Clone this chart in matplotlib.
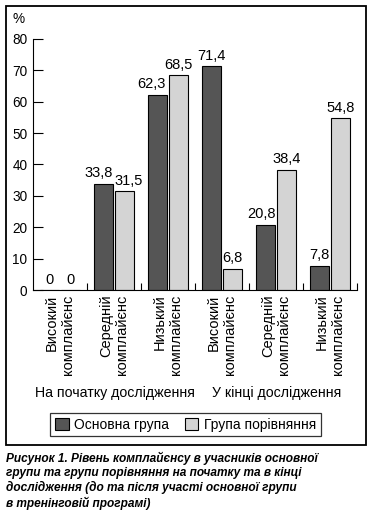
import numpy as np
import matplotlib
matplotlib.use("Agg")
import matplotlib.pyplot as plt
from matplotlib.patches import Rectangle, Patch

plt.rcParams['font.family'] = ['Liberation Sans', 'DejaVu Sans']

categories = ['Високий\nкомплайєнс', 'Середній\nкомплайєнс', 'Низький\nкомплайєнс',
              'Високий\nкомплайєнс', 'Середній\nкомплайєнс', 'Низький\nкомплайєнс']
main_group = [0, 33.8, 62.3, 71.4, 20.8, 7.8]
compare_group = [0, 31.5, 68.5, 6.8, 38.4, 54.8]
stage_labels = ['На початку дослідження', 'У кінці дослідження']
legend_labels = ['Основна група', 'Група порівняння']
caption = ('Рисунок 1. Рівень комплайєнсу в учасників основної\n'
           'групи та групи порівняння на початку та в кінці\n'
           'дослідження (до та після участі основної групи\n'
           'в тренінговій програмі)')

W, H = 372, 513
fig = plt.figure(figsize=(W / 100, H / 100), dpi=100)
ax = fig.add_axes([33 / W, 1 - 290 / H, (357 - 33) / W, (290 - 39) / H])

x = np.arange(len(categories)) + 0.5
w = 0.36
dark, light = '#555555', '#d4d4d4'
b1 = ax.bar(x - 0.19, main_group, w, color=dark, edgecolor='black', linewidth=0.8)
b2 = ax.bar(x + 0.19, compare_group, w, color=light, edgecolor='black', linewidth=0.8)

def fmt(v):
    return str(int(v)) if v == int(v) else str(v).replace('.', ',')

# sideways nudges (points) so neighbouring value labels don't collide
nudge_main = [0, -3.6, -4.7, 0, -3.2, 0]
nudge_comp = [0, 2.9, 0, 0, 0, 0]

for bars, vals, nud in ((b1, main_group, nudge_main), (b2, compare_group, nudge_comp)):
    for r, v, dx in zip(bars, vals, nud):
        ax.annotate(fmt(v), (r.get_x() + r.get_width() / 2, v), xytext=(dx, 2.5),
                    textcoords='offset points', ha='center', va='bottom', fontsize=10.5)

ax.set_xlim(0, 6)
ax.set_ylim(0, 80)
ax.set_yticks(range(0, 81, 10))
ax.set_xticks(range(1, 7))
ax.set_xticklabels([])
ax.tick_params(axis='y', direction='in', length=7, labelsize=9.8, pad=4)
ax.tick_params(axis='x', direction='in', length=5)
for s in ('top', 'right'):
    ax.spines[s].set_visible(False)
ax.patch.set_alpha(0)

for xi, lab in zip(x, categories):
    ax.text(xi, -1.5, lab, rotation=90, ha='center', va='top', multialignment='right',
            fontsize=10.5, linespacing=1.2)

fig.text(19 / W, 1 - 19 / H, '%', ha='center', va='center', fontsize=9.8)
fig.text(115 / W, 1 - 393 / H, stage_labels[0], ha='center', va='center', fontsize=10.2)
fig.text(277 / W, 1 - 393 / H, stage_labels[1], ha='center', va='center', fontsize=10.2)

handles = [Patch(facecolor=dark, edgecolor='black', linewidth=0.8),
           Patch(facecolor=light, edgecolor='black', linewidth=0.8)]
leg = fig.legend(handles, legend_labels, loc='center', bbox_to_anchor=(185.5 / W, 1 - 424.5 / H),
                 ncol=2, fontsize=10, frameon=True, fancybox=False, edgecolor='black',
                 handlelength=1.0, handleheight=1.0, handletextpad=0.4, columnspacing=1.1,
                 borderpad=0.35)
leg.get_frame().set_linewidth(0.9)

fig.patches.append(Rectangle((6 / W, 1 - 445 / H), 360 / W, 439 / H, transform=fig.transFigure,
                             fill=False, edgecolor='black', linewidth=1.3))

fig.text(6 / W, 1 - 452 / H, caption, ha='left', va='top', fontsize=8.6,
         fontweight='bold', fontstyle='italic', linespacing=1.2,
         family=['Liberation Sans Narrow', 'Liberation Sans'])

fig.savefig('out.png', dpi=100)
